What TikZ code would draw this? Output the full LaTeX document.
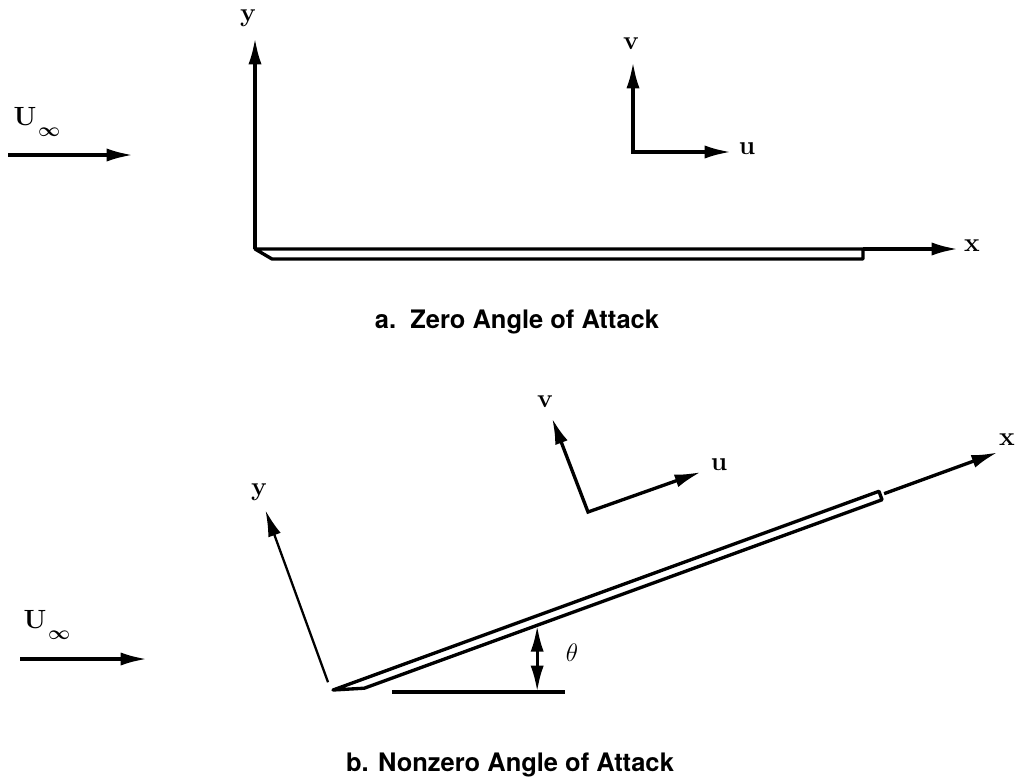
\documentclass[tikz,border=0pt]{standalone}
\usepackage{fontspec}
\newfontfamily\capfont{TeX Gyre Heros}
\usetikzlibrary{arrows.meta}
\tikzset{>={Latex[length=15pt,width=7.5pt]}}
\newcommand{\Uinf}{U\kern1pt\raisebox{-6pt}{\fontsize{11}{13}\selectfont$\infty$}}
\tikzset{
  axis/.style = {->, line width=1.9pt},
  plate/.style = {line width=1.9pt, line join=round},
  lab/.style = {font=\fontsize{15}{17}\selectfont\bfseries\boldmath, inner sep=1pt},
  caption/.style = {font=\fontsize{14.5}{17}\selectfont\capfont\bfseries}
}

\begin{document}
\begin{tikzpicture}[x=0.02cm,y=-0.02cm]
  \useasboundingbox (0,0) rectangle (1016,781);
  % a. zero angle of attack
  \node[lab] (Ua) at (37,122) {\Uinf};
  \coordinate (Fa1) at (8,155);
  \coordinate (Fa2) at (133,155);
  \draw[axis] (Fa1) -- (Fa2);
  %
  \coordinate (Oa) at (255,249);
  \coordinate (Ea) at (863,249);
  \draw[plate] (Oa) -- (Ea) -- ++(0,10) -- (272,259) -- cycle;
  \coordinate (Ya) at (255,38);
  \coordinate (Xa) at (958,249);
  \draw[axis] (Oa) -- (Ya);
  \draw[axis] (Ea) -- (Xa);
  \node[lab] (ya) at (248,18) {y};
  \node[lab] (xa) at (972,246) {x};
  %
  \coordinate (Ca) at (633,152);
  \coordinate (Va) at (633,62);
  \coordinate (Wa) at (731,152);
  \draw[<->,line width=1.9pt] (Va) -- (Ca) -- (Wa);
  \node[lab] (va) at (631,44) {v};
  \node[lab] (ua) at (747,149) {u};
  %
  \node[caption] (capa) at (517,322) {a.\ \ Zero Angle of Attack};
  % b. nonzero angle of attack
  \node[lab] (Ub) at (47,625) {\Uinf};
  \coordinate (Fb1) at (20,659);
  \coordinate (Fb2) at (147,659);
  \draw[axis] (Fb1) -- (Fb2);
  %
  \begin{scope}[shift={(333,690)},rotate=20]
    \draw[plate] (0,0) coordinate (Ob) -- (581,0) -- (581,9) -- (30,9) -- cycle;
    \coordinate (T) at (214,9);
    \coordinate (Eb) at (585,4);
    \coordinate (Xb) at (706,4);
    \coordinate (Yb0) at (-2,-9);
    \coordinate (Yb) at (-2,-192);
  \end{scope}
  \draw[axis] (Eb) -- (Xb);
  \draw[->,line width=1.3pt] (Yb0) -- (Yb);
  \node[lab] (yb) at (259,492) {y};
  \node[lab] (xb) at (1007,440) {x};
  %
  \coordinate (H1) at (392,692);
  \coordinate (H2) at (565,692);
  \draw[line width=1.9pt] (H1) -- (H2);
  \draw[<->,line width=1.9pt] (T) -- (T |- H1);
  \node[font=\fontsize{15}{17}\selectfont] (th) at (572,653) {$\theta$};
  %
  \coordinate (Cb) at (588,512);
  \coordinate (Vb) at (552,418);
  \coordinate (Wb) at (701,472);
  \draw[<->,line width=1.9pt] (Vb) -- (Cb) -- (Wb);
  \node[lab] (vb) at (545,402) {v};
  \node[lab] (ub) at (719,465) {u};
  %
  \node[caption] (capb) at (510,765) {b. Nonzero Angle of Attack};
\end{tikzpicture}
\end{document}
